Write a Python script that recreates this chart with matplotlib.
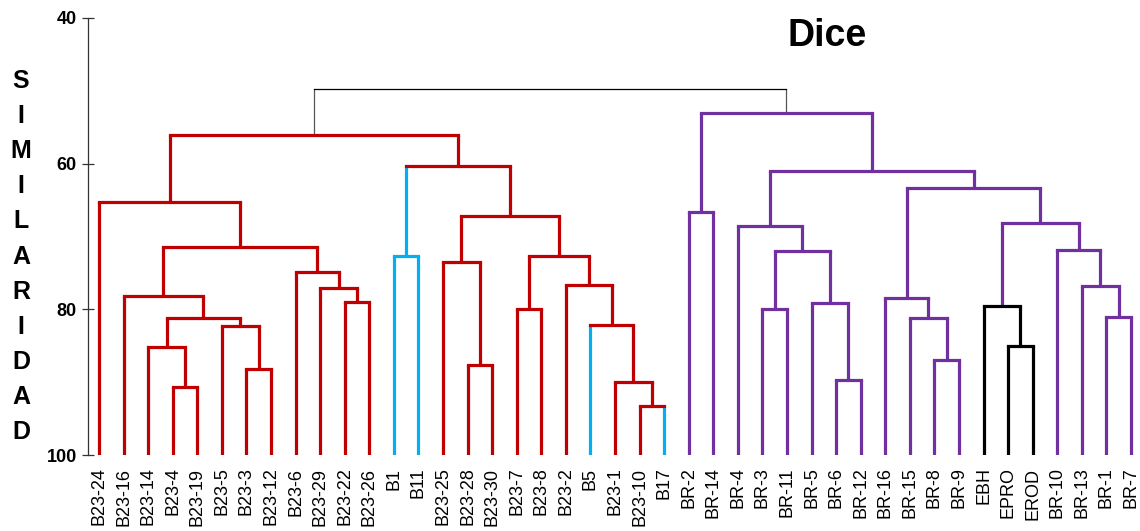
import matplotlib
matplotlib.use("Agg")
import matplotlib.pyplot as plt

plt.rcParams['font.family'] = ['Liberation Sans', 'DejaVu Sans']

# ---- data ----
leaves = ["B23-24", "B23-16", "B23-14", "B23-4", "B23-19", "B23-5", "B23-3", "B23-12",
          "B23-6", "B23-29", "B23-22", "B23-26", "B1", "B11", "B23-25", "B23-28",
          "B23-30", "B23-7", "B23-8", "B23-2", "B5", "B23-1", "B23-10", "B17",
          "BR-2", "BR-14", "BR-4", "BR-3", "BR-11", "BR-5", "BR-6", "BR-12",
          "BR-16", "BR-15", "BR-8", "BR-9", "EBH", "EPRO", "EROD",
          "BR-10", "BR-13", "BR-1", "BR-7"]

# merges: (left, right, similarity); "#k" refers to merge k
merge_left = ["B23-4", "B23-14", "B23-3", "B23-5", "#1", "B23-16", "B23-22", "B23-29", "B23-6", "#5",
              "B23-24", "B1", "B23-28", "B23-25", "B23-7", "B23-10", "B23-1", "B5", "B23-2", "#14",
              "#13", "#11", "#10", "BR-2", "BR-3", "BR-6", "BR-5", "#24", "BR-4", "BR-8",
              "BR-15", "BR-16", "EPRO", "EBH", "BR-1", "BR-13", "BR-10", "#33", "#31", "#28",
              "#23", "#22"]
merge_right = ["B23-19", "#0", "B23-12", "#2", "#3", "#4", "B23-26", "#6", "#7", "#8",
               "#9", "B11", "B23-30", "#12", "B23-8", "B17", "#15", "#16", "#17", "#18",
               "#19", "#20", "#21", "BR-14", "BR-11", "BR-12", "#25", "#26", "#27", "BR-9",
               "#29", "#30", "EROD", "#32", "BR-7", "#34", "#35", "#36", "#37", "#38",
               "#39", "#40"]
merge_height = [90.7, 85.2, 88.2, 82.3, 81.2, 78.2, 79.0, 77.1, 74.9, 71.5,
                65.2, 72.7, 87.7, 73.5, 80.0, 93.3, 90.0, 82.1, 76.6, 72.7,
                67.2, 60.3, 56.1, 66.6, 80.0, 89.7, 79.1, 72.0, 68.6, 87.0,
                81.2, 78.5, 85.1, 79.5, 81.1, 76.8, 71.8, 68.1, 63.3, 61.0,
                53.0, 49.7]

y_ticks = [40, 60, 80, 100]
title = "Dice"
ylabel = "SIMILARIDAD"

# ---- styles ----
RED, CYAN, PURPLE, BLACK = "#C00000", "#00B0F0", "#7030A0", "#000000"
cyan_leaves = {"B1", "B11", "B5", "B17"}
black_leaves = {"EBH", "EPRO", "EROD"}
def leaf_color(lbl):
    if lbl in cyan_leaves:
        return CYAN
    if lbl in black_leaves:
        return BLACK
    return PURPLE if lbl.startswith("BR") else RED

merge_colors = []
for k in range(len(merge_height)):
    if k == 11:
        merge_colors.append(CYAN)
    elif k in (32, 33):
        merge_colors.append(BLACK)
    elif k == 41:
        merge_colors.append(BLACK)
    elif k >= 23:
        merge_colors.append(PURPLE)
    else:
        merge_colors.append(RED)
up_override = {11: CYAN}

fig = plt.figure(figsize=(11.4, 5.31), dpi=100)
ax = fig.add_axes([88 / 1140, 1 - 455 / 531, (1140 - 88) / 1140, (455 - 18) / 531])

pos = {lbl: i for i, lbl in enumerate(leaves)}
xs, ys = {}, {}
for lbl in leaves:
    xs[lbl] = pos[lbl]
    ys[lbl] = 100.0

def node_x(n):
    return xs[n]

LW = 2.3
for k, (a, b, h) in enumerate(zip(merge_left, merge_right, merge_height)):
    col = merge_colors[k]
    lw = 0.9 if k == 41 else LW
    xa, xb = xs[a], xs[b]
    for child, xc in ((a, xa), (b, xb)):
        if k == 41:
            c = "#555555"
        elif child.startswith("#"):
            ci = int(child[1:])
            c = up_override.get(ci, col)
        else:
            c = leaf_color(child)
        ax.plot([xc, xc], [ys[child], h], color=c, lw=lw,
                solid_capstyle='butt', zorder=2)
    ax.plot([xa, xb], [h, h], color=col, lw=lw, solid_capstyle='projecting', zorder=3)
    name = "#%d" % k
    xs[name] = (xa + xb) / 2
    ys[name] = h

px = 24.57
ax.set_xlim(-11 / px, (1140 - 99) / px)
ax.set_ylim(100, 40)
for s in ("top", "right", "bottom"):
    ax.spines[s].set_visible(False)
ax.spines["left"].set_color("#333333")
ax.spines["left"].set_linewidth(0.9)
ax.set_yticks(y_ticks)
ax.set_yticklabels([str(t) for t in y_ticks], fontsize=13, fontweight='bold')
ax.tick_params(axis='y', direction='inout', length=8, width=0.9, color="#333333", pad=4)
ax.set_xticks(range(len(leaves)))
ax.set_xticklabels(leaves, rotation=90, fontsize=13, va='top', ha='center')
ax.tick_params(axis='x', length=0, pad=9)

fig.text(827 / 1140, 1 - 36 / 531, title, ha='center', va='center',
         fontsize=27, fontweight='bold')
for i, ch in enumerate(ylabel):
    fig.text(21 / 1140, 1 - (81 + 35.1 * i) / 531, ch, ha='center', va='center',
             fontsize=18, fontweight='bold')

fig.savefig("out.png", dpi=100)
